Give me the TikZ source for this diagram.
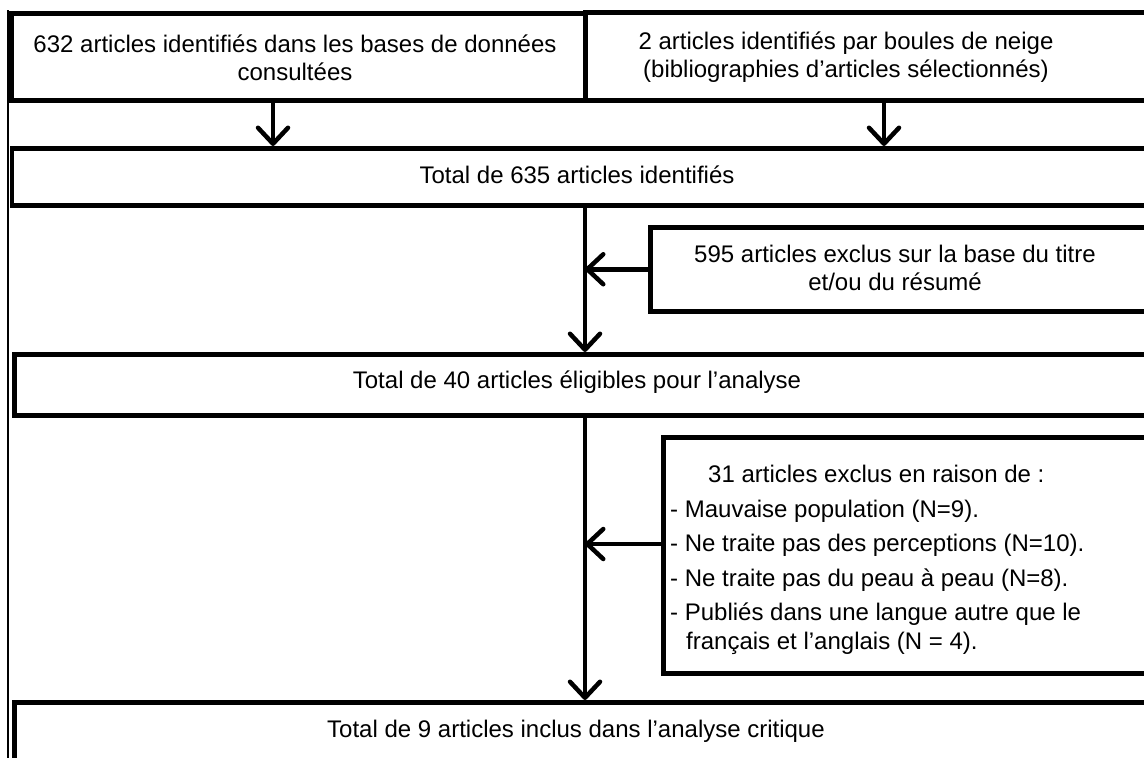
\documentclass[tikz,border=0pt]{standalone}
\usepackage{fontspec}
\setmainfont{Liberation Sans}
\usetikzlibrary{arrows.meta}
\begin{document}
\begin{tikzpicture}[x=1pt,y=-1pt,
  box/.style={draw,line width=4.5pt,anchor=north west,inner sep=0pt},
  txt/.style={inner sep=0pt,align=center,font=\fontsize{24}{28.5}\selectfont},
  arr/.style={line width=4.5pt,-{Straight Barb[length=16pt,width=30pt,line cap=round,line join=round]}},
  frame/.style={line width=2pt}]
\useasboundingbox (0,0) rectangle (1144,758);
\clip (0,0) rectangle (1144,758);
\draw[frame] (7.5,10) -- (7.5,760);
% boxes
\node[box,minimum width=574pt,minimum height=87pt] (b1) at (9,11) {};
\node[box,minimum width=590pt,minimum height=88pt] (b2) at (583,10) {};
\node[box,minimum width=1160pt,minimum height=57pt] (b3) at (9.5,146) {};
\node[box,minimum width=520pt,minimum height=84pt] (b4) at (648,225) {};
\node[box,minimum width=1160pt,minimum height=61pt] (b5) at (12,352) {};
\node[box,minimum width=510pt,minimum height=236pt] (b6) at (661,435) {};
\node[box,minimum width=1160pt,minimum height=90pt] (b7) at (12,700) {};
% texts
\node[txt] (t1) at (295,58) {632 articles identifiés dans les bases de données\\consultées};
\node[txt] (t2) at (846,57) {2 articles identifiés par boules de neige\\(bibliographies d’articles sélectionnés)};
\node[txt] (t3) at (577,175) {Total de 635 articles identifiés};
\node[txt] (t4) at (895,268) {595 articles exclus sur la base du titre\\et/ou du résumé};
\node[txt] (t5) at (577,382) {Total de 40 articles éligibles pour l’analyse};
\node[txt,align=left,anchor=north west] (t6) at (670,465) {\hspace*{38pt}31 articles exclus en raison de :\\[6pt]
- Mauvaise population (N=9).\\[6pt]
- Ne traite pas des perceptions (N=10).\\[6pt]
- Ne traite pas du peau à peau (N=8).\\[6pt]
- Publiés dans une langue autre que le\\
\hspace*{16pt}français et l’anglais (N = 4).};
\node[txt] (t7) at (576,731) {Total de 9 articles inclus dans l’analyse critique};
% connectors
\coordinate (xl) at (273,0);
\coordinate (xr) at (884,0);
\coordinate (xm) at (585,0);
\coordinate (ya) at (0,544);
\draw[arr] (b1.south -| xl) -- (b3.north -| xl);
\draw[arr] (b2.south -| xr) -- (b3.north -| xr);
\draw[arr] (b3.south -| xm) -- (b5.north -| xm);
\draw[arr] (b4.west) -- (b4.west -| xm);
\draw[arr] (b5.south -| xm) -- (b7.north -| xm);
\draw[arr] (b6.west |- ya) -- (xm |- ya);
\end{tikzpicture}
\end{document}
